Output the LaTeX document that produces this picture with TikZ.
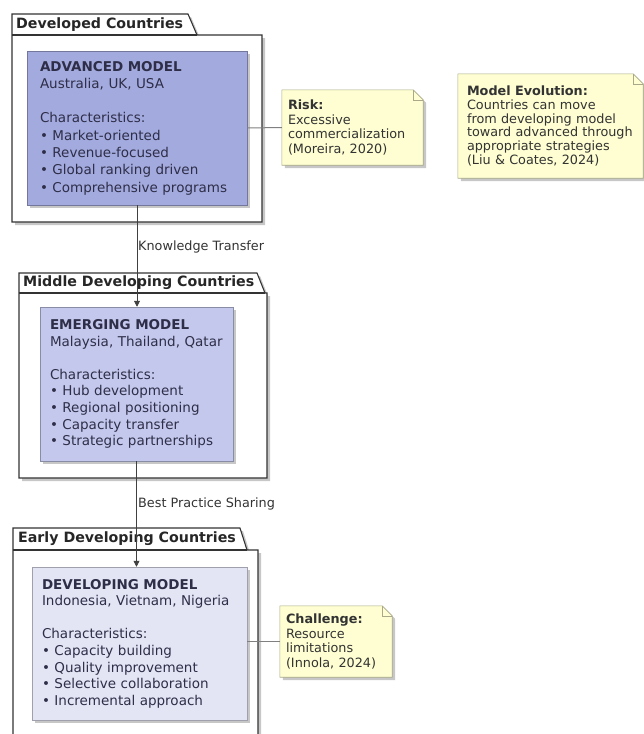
\documentclass[tikz,border=0pt]{standalone}
\usepackage{fontspec}
\setmainfont{DejaVu Sans}
\usetikzlibrary{arrows.meta,shadows,backgrounds}
\definecolor{advfill}{HTML}{A3AADE}
\definecolor{emgfill}{HTML}{C4C8EC}
\definecolor{devfill}{HTML}{E3E5F4}
\definecolor{notefill}{HTML}{FEFED2}
\definecolor{noteline}{HTML}{A9A98A}
\definecolor{txt}{HTML}{2E2E48}
\tikzset{
  shad/.style={drop shadow={shadow xshift=3pt, shadow yshift=-3pt, fill=black, opacity=0.22}},
  model/.style={rectangle, draw=#1!70!black, fill=#1, line width=0.5pt, shad,
    align=left, inner ysep=0pt, font=\fontsize{13.5}{16.6}\selectfont, text=txt},
  pkgframe/.style={draw=black!80, line width=1.1pt, fill=white, shad},
  pkgline/.style={draw=black!80, line width=1.1pt},
  pkgtitle/.style={anchor=west, inner sep=0pt, font=\bfseries\fontsize{14.2}{16}\selectfont, text=black!85},
  notebox/.style={rectangle, inner ysep=0pt, align=left, font=\fontsize{12.8}{14.5}\selectfont, text=black!80},
  noteshape/.style={draw=noteline, fill=notefill, line width=0.6pt, shad},
  notefold/.style={draw=noteline, line width=0.6pt},
  arr/.style={draw=black!75, line width=0.7pt, -{Triangle[width=6pt,length=6pt]}},
  link/.style={draw=black!50, line width=1pt},
  lbl/.style={anchor=west, inner sep=0pt, font=\fontsize{12.8}{14}\selectfont, text=black!80},
}
\begin{document}
\begin{tikzpicture}[x=1pt,y=-1pt]
\useasboundingbox (0,0) rectangle (644,734);
\clip (0,0) rectangle (644,734);

% packages
\draw[pkgframe] (12,35) -- (12,14) -- (188,14) -- (197,35) -- (262,35) -- (262,222) -- (12,222) -- cycle;
\draw[pkgline] (12,35) -- (197,35);
\node[pkgtitle] (p1t) at (16,24.5) {Developed Countries};

\draw[pkgframe] (19,293) -- (19,273) -- (257,273) -- (265,293) -- (267,293) -- (267,478) -- (19,478) -- cycle;
\draw[pkgline] (19,293) -- (265,293);
\node[pkgtitle] (p2t) at (23,283) {Middle Developing Countries};

\draw[pkgframe] (13,550) -- (13,528) -- (240,528) -- (247,550) -- (258,550) -- (258,760) -- (13,760) -- cycle;
\draw[pkgline] (13,550) -- (247,550);
\node[pkgtitle] (p3t) at (18,539) {Early Developing Countries};

% model nodes
\node[model=advfill, minimum width=220pt, minimum height=154pt, inner xsep=13pt, text width=194pt,
  font=\fontsize{13.5}{17.3}\selectfont] (adv) at (137,128)
{\textbf{ADVANCED MODEL}\\ Australia, UK, USA\\[17.3pt] Characteristics:\\ • Market-oriented\\ • Revenue-focused\\ • Global~ranking~driven\\ • Comprehensive~programs};

\node[model=emgfill, minimum width=193pt, minimum height=154pt, inner xsep=10pt, text width=173pt] (emg) at (136.5,384)
{\textbf{EMERGING MODEL}\\ Malaysia,~Thailand,~Qatar\\[16.6pt] Characteristics:\\ • Hub development\\ • Regional~positioning\\ • Capacity transfer\\ • Strategic~partnerships};

\node[model=devfill, minimum width=215pt, minimum height=153pt, inner xsep=10pt, text width=195pt] (dev) at (139.5,643.5)
{\textbf{DEVELOPING MODEL}\\ Indonesia,~Vietnam,~Nigeria\\[16.6pt] Characteristics:\\ • Capacity building\\ • Quality~improvement\\ • Selective~collaboration\\ • Incremental~approach};

% notes (text)
\node[notebox, minimum width=141pt, minimum height=75pt, inner xsep=6pt, text width=129pt] (risk) at (352.5,127.5)
{\textbf{Risk:}\\ Excessive\\ commercialization\\ (Moreira, 2020)};

\node[notebox, minimum width=185pt, minimum height=104pt, inner xsep=9pt, text width=167pt,
  font=\fontsize{12.8}{13.9}\selectfont] (evo) at (550.5,126)
{\textbf{Model Evolution:}\\ Countries can move\\ from~developing~model\\ toward~advanced~through\\ appropriate~strategies\\ (Liu \& Coates, 2024)};

\node[notebox, minimum width=112pt, minimum height=71pt, inner xsep=6pt, text width=100pt] (chal) at (336,641.5)
{\textbf{Challenge:}\\ Resource\\ limitations\\ (Innola, 2024)};

\begin{pgfonlayer}{background}
\foreach \n in {risk,evo,chal}{
  \path[noteshape] (\n.north west) -- ([xshift=-10pt]\n.north east) -- ([yshift=-10pt]\n.north east)
     -- (\n.south east) -- (\n.south west) -- cycle;
  \draw[notefold] ([xshift=-10pt]\n.north east) -- ([xshift=-10pt,yshift=-10pt]\n.north east) -- ([yshift=-10pt]\n.north east);
}
\end{pgfonlayer}

% connectors
\draw[link] (adv.east) -- (risk.west);
\draw[link] (chal.west -| dev.east) -- (chal.west);

\draw[arr] (adv.south) -- (adv.south |- emg.north);
\node[lbl] (l1) at (138,247) {Knowledge Transfer};
\draw[arr] (emg.south) -- (emg.south |- dev.north);
\node[lbl] (l2) at (138,504) {Best Practice Sharing};
\end{tikzpicture}
\end{document}
